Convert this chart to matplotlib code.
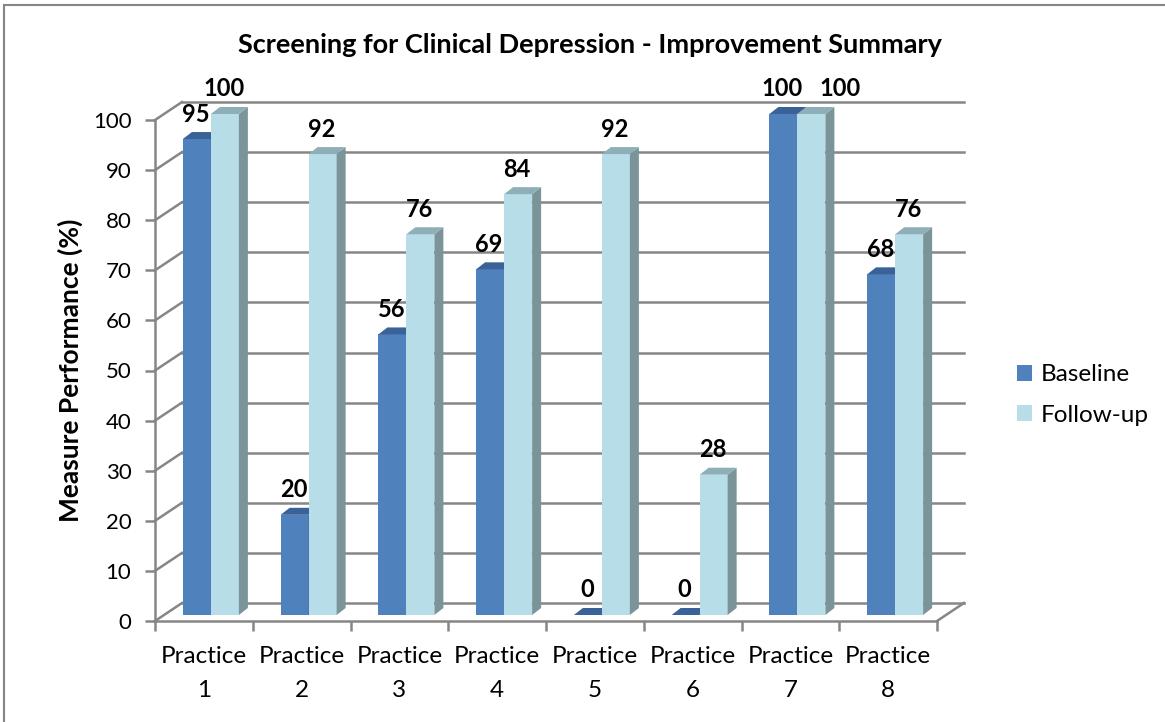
import numpy as np
import matplotlib.pyplot as plt
from matplotlib.patches import Polygon, Patch, Rectangle

# data
categories = ["Practice\n1", "Practice\n2", "Practice\n3", "Practice\n4",
              "Practice\n5", "Practice\n6", "Practice\n7", "Practice\n8"]
baseline = [95, 20, 56, 69, 0, 0, 100, 68]
follow_up = [100, 92, 76, 84, 92, 28, 100, 76]
series_names = ["Baseline", "Follow-up"]
yticks = list(range(0, 101, 10))

plt.rcParams['font.family'] = ['Lato', 'DejaVu Sans']

# colours: front, top, side
base_cols = ("#4F81BD", "#3A6296", "#3A6296")
fu_cols = ("#B7DEE8", "#8FAFB8", "#7A9499")
grid_col = "#868686"

W, H = 1165, 722
fig = plt.figure(figsize=(W / 100, H / 100), dpi=100)
ax = fig.add_axes([155 / W, (H - 621) / H, (937 - 155) / W, (621 - 120) / H])
n = len(categories)
ax.set_xlim(0, n)
ax.set_ylim(0, 100)

# pseudo-3d offsets in data units
px_x = (937 - 155) / n
px_y = (621 - 120) / 100
wall_dx, wall_dy = 27 / px_x, 18 / px_y
bar_ox, bar_oy = 7 / px_x, 6 / px_y
bar_dx, bar_dy = 9 / px_x, 7 / px_y
bw = 28 / px_x

# back wall and left wall lines
for v in yticks:
    ax.plot([wall_dx, n + wall_dx], [v + wall_dy, v + wall_dy], color=grid_col, lw=1.8, clip_on=False, zorder=1)
    ax.plot([0, wall_dx], [v, v + wall_dy], color=grid_col, lw=1.8, clip_on=False, zorder=1)
ax.plot([n, n + wall_dx], [0, wall_dy], color=grid_col, lw=1.8, clip_on=False, zorder=1)


def draw_bar(x0, h, cols):
    y0 = bar_oy
    front, top, side = cols
    if h > 0:
        ax.add_patch(Polygon([(x0, y0), (x0 + bw, y0), (x0 + bw, y0 + h), (x0, y0 + h)],
                             closed=True, fc=front, ec='none', clip_on=False, zorder=3))
        ax.add_patch(Polygon([(x0 + bw, y0), (x0 + bw + bar_dx, y0 + bar_dy),
                              (x0 + bw + bar_dx, y0 + h + bar_dy), (x0 + bw, y0 + h)],
                             closed=True, fc=side, ec='none', clip_on=False, zorder=3))
    ax.add_patch(Polygon([(x0, y0 + h), (x0 + bw, y0 + h), (x0 + bw + bar_dx, y0 + h + bar_dy),
                          (x0 + bar_dx, y0 + h + bar_dy)],
                         closed=True, fc=top, ec='none', clip_on=False, zorder=3))


for i in range(n):
    c = i + 0.5 + bar_ox
    draw_bar(c - bw, baseline[i], base_cols)
    draw_bar(c, follow_up[i], fu_cols)
    # push the follow-up label aside when both labels sit at the same height
    shift = 0.3 if abs(baseline[i] - follow_up[i]) < 3 else 0
    for x0, v, s in ((c - bw, baseline[i], 0), (c, follow_up[i], shift)):
        ax.text(x0 + bw / 2 - 0.01 + s, v + bar_oy + bar_dy + 1.3, str(v), ha='center', va='bottom',
                fontsize=17, fontweight='bold', color='black', zorder=5)

# axes
for s in ['top', 'right']:
    ax.spines[s].set_visible(False)
for s in ['left', 'bottom']:
    ax.spines[s].set_color(grid_col)
    ax.spines[s].set_linewidth(1.8)
ax.set_yticks(yticks)
ax.tick_params(axis='y', length=7, width=1.8, color=grid_col, labelsize=16, pad=10)
ax.set_xticks(np.arange(0, n + 1))
ax.set_xticklabels([])
ax.set_xticks(np.arange(n) + 0.5, minor=True)
ax.set_xticklabels(categories, minor=True, fontsize=17.5, linespacing=1.75)
ax.tick_params(axis='x', which='major', length=7, width=1.8, color=grid_col, direction='out')
ax.tick_params(axis='x', which='minor', length=0, pad=18)
ax.set_ylabel("Measure Performance (%)", fontsize=19, fontweight='bold', labelpad=7)
ax.patch.set_alpha(0)

fig.text(590 / W, 1 - 45 / H, "Screening for Clinical Depression - Improvement Summary",
         ha='center', va='center', fontsize=19.5, fontweight='bold')

handles = [Patch(fc=base_cols[0]), Patch(fc=fu_cols[0])]
fig.legend(handles, series_names, loc='center left', bbox_to_anchor=(1017 / W, 1 - 395 / H),
           frameon=False, fontsize=17.5, handlelength=0.62, handleheight=0.62,
           handletextpad=0.35, labelspacing=0.8, borderpad=0, borderaxespad=0)

fig.add_artist(Rectangle((4 / W, -0.1), 1.2, 1 - 5 / H + 0.1, transform=fig.transFigure,
                         fill=False, ec=grid_col, lw=1.5))

fig.savefig("out.png", dpi=100)
